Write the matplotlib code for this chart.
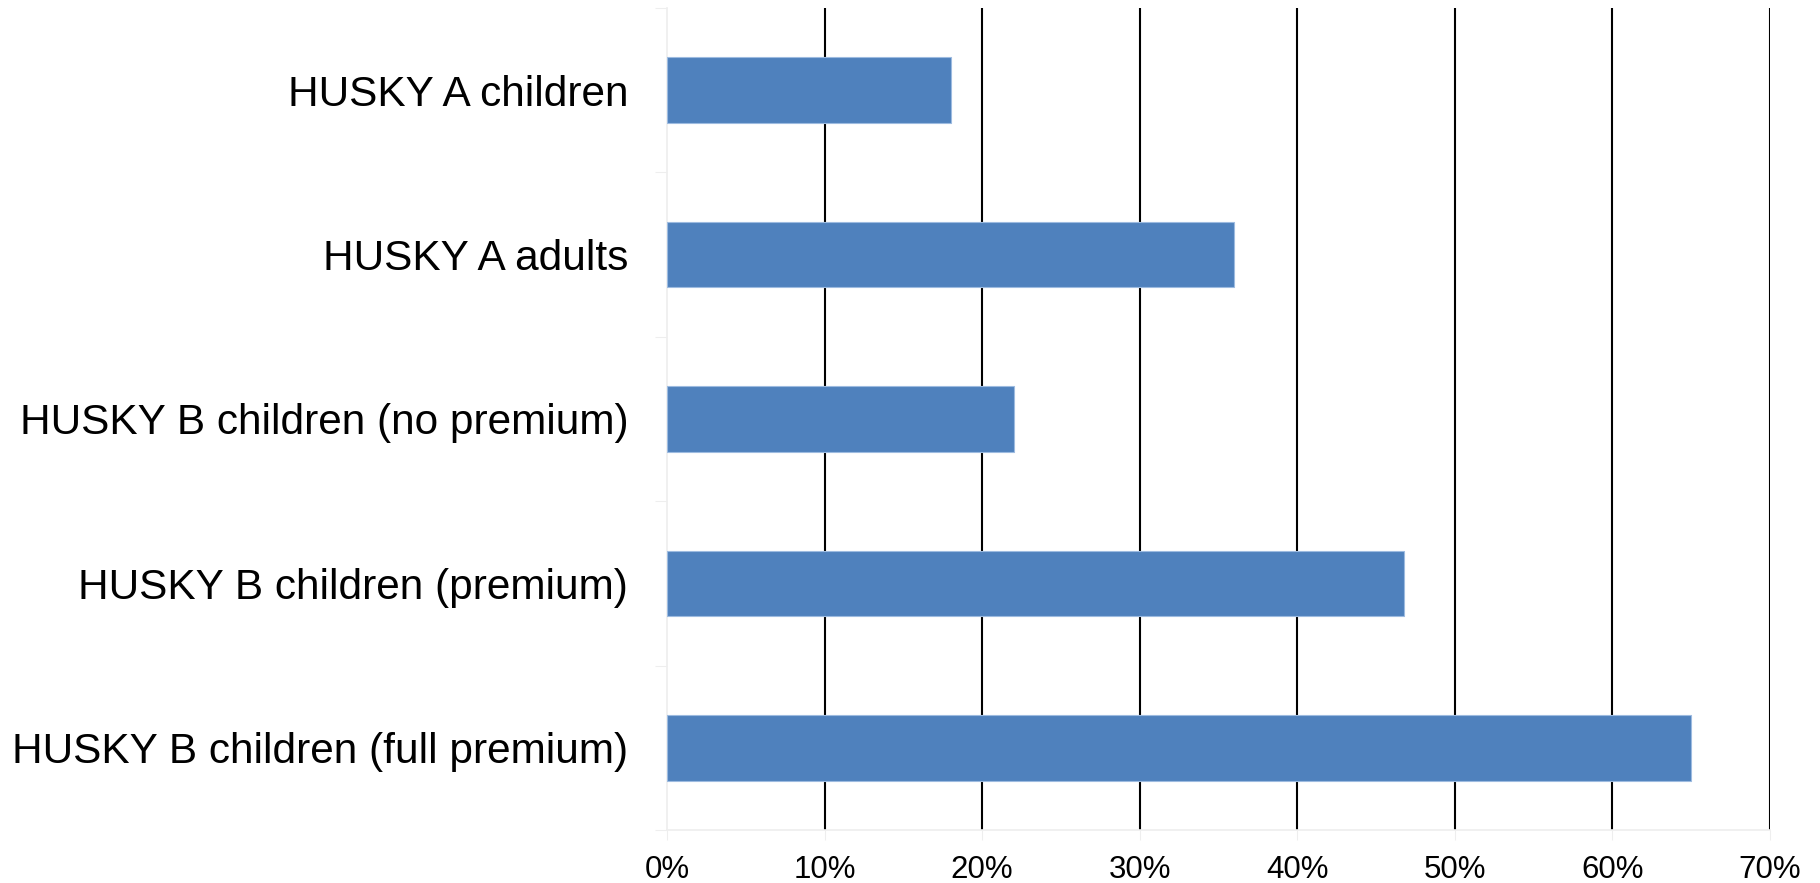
import matplotlib.pyplot as plt
from matplotlib.ticker import PercentFormatter

plt.rcParams['font.family'] = ['Liberation Sans', 'DejaVu Sans']

categories = ['HUSKY A children', 'HUSKY A adults', 'HUSKY B children (no premium)',
              'HUSKY B children (premium)', 'HUSKY B children (full premium)']
values = [18, 36, 22, 46.8, 65]
xticks = [0, 10, 20, 30, 40, 50, 60, 70]

fig = plt.figure(figsize=(18.2, 8.83), dpi=100)
ax = fig.add_axes([0.3665, 0.06, 0.606, 0.931])

pos = list(range(len(categories)))
ax.barh(pos, values, height=0.4, color='#4F81BD', edgecolor='#9dbbe0', linewidth=0.8, zorder=3)

ax.set_ylim(len(categories) - 0.5, -0.5)
ax.set_xlim(0, 70)
ax.set_xticks(xticks)
ax.xaxis.set_major_formatter(PercentFormatter(decimals=0))
# boundary ticks between categories, labels sit on minor ticks at the centres
ax.set_yticks([p - 0.5 for p in pos] + [len(categories) - 0.5])
ax.set_yticklabels([''] * (len(categories) + 1))
ax.set_yticks(pos, minor=True)
ax.set_yticklabels(categories, minor=True)

# gridlines except at 0
for x in xticks[1:]:
    ax.axvline(x, color='black', linewidth=1.5, zorder=1)

for s in ['top', 'right']:
    ax.spines[s].set_visible(False)
ax.spines['left'].set_color('#eeeeee')
ax.spines['bottom'].set_color('#eeeeee')
ax.spines['left'].set_linewidth(1.2)
ax.spines['bottom'].set_linewidth(1.2)

ax.tick_params(axis='x', labelsize=22.5, length=7, color='#eeeeee', pad=11)
ax.tick_params(axis='y', which='major', length=9, color='#eeeeee')
ax.tick_params(axis='y', which='minor', length=0, labelsize=30.5, pad=28)

fig.savefig('out.png', dpi=100)
